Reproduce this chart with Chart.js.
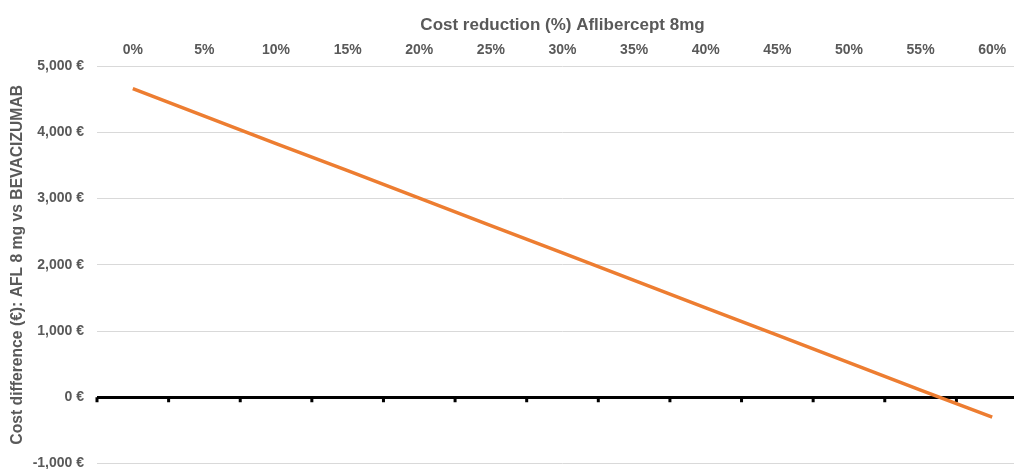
<!DOCTYPE html>
<html>
<head>
<meta charset="utf-8">
<script src="https://cdn.jsdelivr.net/npm/chart.js@4.4.1/dist/chart.umd.min.js"></script>
<style>
  html, body { margin: 0; padding: 0; background: #fff; overflow: hidden; }
  #wrap { width: 1030px; height: 485px; position: relative; }
</style>
</head>
<body>
<div id="wrap"><canvas id="chart"></canvas></div>
<script>
// Cost reduction levels for Aflibercept 8mg (x axis)
const reductionLabels = ['0%', '5%', '10%', '15%', '20%', '25%', '30%', '35%', '40%', '45%', '50%', '55%', '60%'];
// Cost difference AFL 8 mg vs bevacizumab, in euro
const costDifference = [4660, 4245, 3830, 3420, 3005, 2590, 2180, 1765, 1350, 940, 525, 110, -300];
// Y axis range and step, in euro
const yMin = -1000;
const yMax = 5000;
const yStep = 1000;

const textColor = '#595959';
const fontFamily = '"Liberation Sans", Arial, sans-serif';

const euroFormat = v => v.toLocaleString('en-US') + ' €';

// Small tick marks hanging below the zero baseline, between categories
const baselineTicks = {
  id: 'baselineTicks',
  beforeDatasetsDraw(chart) {
    const x = chart.scales.x, y = chart.scales.y;
    const ctx = chart.ctx;
    const y0 = y.getPixelForValue(0);
    const n = reductionLabels.length;
    const half = (x.getPixelForValue(1) - x.getPixelForValue(0)) / 2;
    ctx.save();
    ctx.strokeStyle = '#000';
    ctx.lineWidth = 3;
    ctx.beginPath();
    for (let i = 0; i <= n; i++) {
      const px = x.getPixelForValue(0) - half + i * 2 * half;
      ctx.moveTo(px, y0);
      ctx.lineTo(px, y0 + 5);
    }
    ctx.stroke();
    ctx.restore();
  }
};

new Chart(document.getElementById('chart'), {
  type: 'line',
  data: {
    labels: reductionLabels,
    datasets: [{
      data: costDifference,
      borderColor: '#ED7D31',
      borderWidth: 3.5,
      pointRadius: 0,
      tension: 0,
      fill: false
    }]
  },
  options: {
    responsive: true,
    maintainAspectRatio: false,
    animation: false,
    layout: { padding: { top: 0, right: 2, bottom: 6, left: 0 } },
    plugins: { legend: { display: false }, tooltip: { enabled: false } },
    scales: {
      x: {
        position: 'top',
        offset: true,
        grid: { display: false, drawTicks: false },
        border: { display: false },
        ticks: {
          color: textColor,
          font: { family: fontFamily, size: 14, weight: 'bold' },
          padding: 7,
          maxRotation: 0
        },
        title: {
          display: true,
          text: 'Cost reduction (%) Aflibercept 8mg',
          color: textColor,
          font: { family: fontFamily, size: 17, weight: 'bold' },
          padding: { top: 15, bottom: 4 }
        },
        afterFit(scale) { scale.height = 66; }
      },
      y: {
        min: yMin,
        max: yMax,
        border: { display: false },
        grid: {
          drawTicks: false,
          color: ctx => ctx.tick && ctx.tick.value === 0 ? '#000000' : '#d9d9d9',
          lineWidth: ctx => ctx.tick && ctx.tick.value === 0 ? 3 : 1
        },
        ticks: {
          stepSize: yStep,
          color: textColor,
          font: { family: fontFamily, size: 14, weight: 'bold' },
          padding: 13,
          callback: v => euroFormat(v)
        },
        title: {
          display: true,
          text: 'Cost difference (€): AFL 8 mg vs BEVACIZUMAB',
          color: textColor,
          font: { family: fontFamily, size: 15.7, weight: 'bold' },
          padding: { top: 8, bottom: 4 }
        },
        afterFit(scale) { scale.width = 97; }
      }
    }
  },
  plugins: [baselineTicks]
});
</script>
</body>
</html>
